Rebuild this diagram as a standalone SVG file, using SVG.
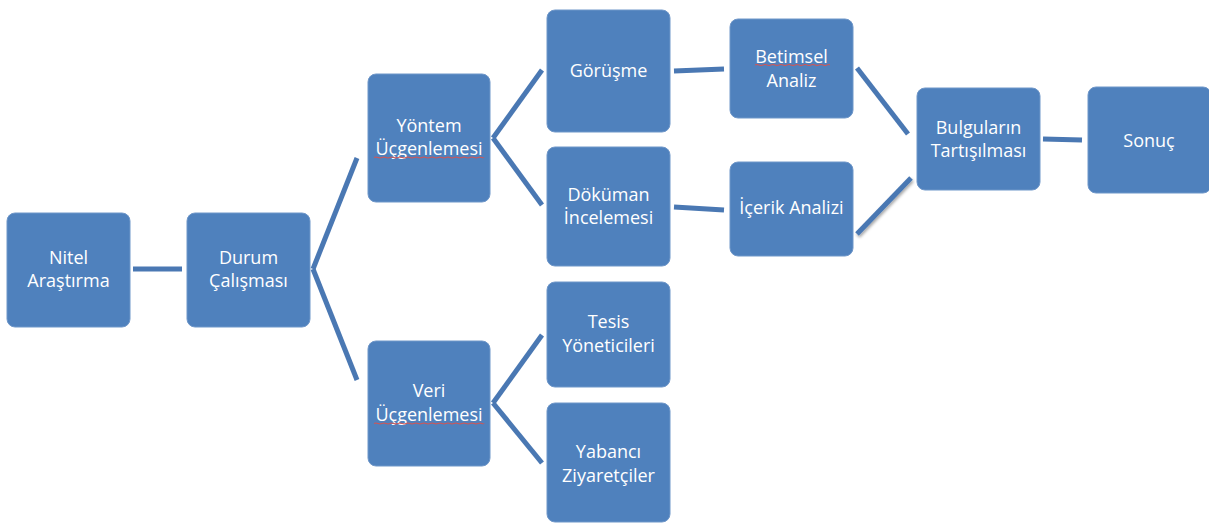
<svg xmlns="http://www.w3.org/2000/svg" width="1209" height="523" viewBox="0 0 1209 523">
<defs>
<style>
.n rect{fill:#4F81BD;stroke:#6f97c9;stroke-width:1}
.n text{fill:#fff;font-family:"Open Sans","Liberation Sans",sans-serif;font-size:18px;text-anchor:middle}
.c line{stroke:#4A78B3;stroke-width:5;stroke-linecap:butt}
.sq{fill:none;stroke:#d9534f;stroke-width:1}
</style>
<filter id="sh" x="-20%" y="-20%" width="140%" height="140%"><feDropShadow dx="1" dy="2" stdDeviation="1.5" flood-color="#000" flood-opacity="0.35"/></filter>
</defs>
<rect width="1209" height="523" fill="#fff"/>
<g id="connectors" class="c">
<line x1="133" y1="269" x2="182" y2="269"/>
<line x1="313" y1="269" x2="357" y2="158"/>
<line x1="313" y1="269" x2="357" y2="380"/>
<line x1="493" y1="138" x2="542" y2="70"/>
<line x1="493" y1="138" x2="542" y2="205"/>
<line x1="493" y1="403" x2="542" y2="335"/>
<line x1="493" y1="403" x2="542" y2="463"/>
<line x1="674" y1="71" x2="724" y2="69"/>
<line x1="674" y1="207" x2="724" y2="210"/>
<line x1="857" y1="68" x2="908" y2="134"/>
<line x1="857" y1="234" x2="911" y2="178" filter="url(#sh)"/>
<line x1="1043" y1="139" x2="1082" y2="140"/>
</g>
<g id="n1" class="n"><rect x="7" y="213" width="123" height="114" rx="8"/><text x="68.5" y="264">Nitel</text><text x="68.5" y="287">Araştırma</text></g>
<g id="n2" class="n"><rect x="187" y="213" width="123" height="114" rx="8"/><text x="248.5" y="264">Durum</text><text x="248.5" y="287">Çalışması</text></g>
<g id="n3" class="n"><rect x="368" y="74" width="122" height="128" rx="8"/><text x="429" y="132">Yöntem</text><text x="429" y="155">Üçgenlemesi</text></g>
<g id="n4" class="n"><rect x="368" y="341" width="122" height="125" rx="8"/><text x="429" y="397">Veri</text><text x="429" y="421">Üçgenlemesi</text></g>
<g id="n5" class="n"><rect x="547" y="10" width="123" height="122" rx="8"/><text x="608.5" y="77">Görüşme</text></g>
<g id="n6" class="n"><rect x="547" y="147" width="123" height="119" rx="8"/><text x="608.5" y="201">Döküman</text><text x="608.5" y="224">İncelemesi</text></g>
<g id="n7" class="n"><rect x="547" y="282" width="123" height="105" rx="8"/><text x="608.5" y="328">Tesis</text><text x="608.5" y="352">Yöneticileri</text></g>
<g id="n8" class="n"><rect x="547" y="403" width="123" height="119" rx="8"/><text x="608.5" y="458">Yabancı</text><text x="608.5" y="482">Ziyaretçiler</text></g>
<g id="n9" class="n"><rect x="730" y="19" width="123" height="99" rx="8"/><text x="791.5" y="63">Betimsel</text><text x="791.5" y="87">Analiz</text></g>
<g id="n10" class="n"><rect x="730" y="162" width="123" height="94" rx="8"/><text x="791.5" y="214">İçerik Analizi</text></g>
<g id="n11" class="n"><rect x="917" y="88" width="123" height="102" rx="8"/><text x="978.5" y="134">Bulguların</text><text x="978.5" y="157">Tartışılması</text></g>
<g id="n12" class="n"><rect x="1088" y="87" width="123" height="106" rx="8"/><text x="1149" y="147">Sonuç</text></g>
<path class="sq" d="M374 157.5 q2 -1 4 0 t4 0 t4 0 t4 0 t4 0 t4 0 t4 0 t4 0 t4 0 t4 0 t4 0 t4 0 t4 0 t4 0 t4 0 t4 0 t4 0 t4 0 t4 0 t4 0 t4 0 t4 0 t4 0 t4 0 t4 0 t4 0 t4 0 t2 0"/>
<path class="sq" d="M374 423.5 q2 -1 4 0 t4 0 t4 0 t4 0 t4 0 t4 0 t4 0 t4 0 t4 0 t4 0 t4 0 t4 0 t4 0 t4 0 t4 0 t4 0 t4 0 t4 0 t4 0 t4 0 t4 0 t4 0 t4 0 t4 0 t4 0 t4 0 t4 0 t2 0"/>
<path class="sq" d="M755 65 q2 -1 4 0 t4 0 t4 0 t4 0 t4 0 t4 0 t4 0 t4 0 t4 0 t4 0 t4 0 t4 0 t4 0 t4 0 t4 0 t4 0 t4 0 t4 0 t3 0"/>
</svg>
